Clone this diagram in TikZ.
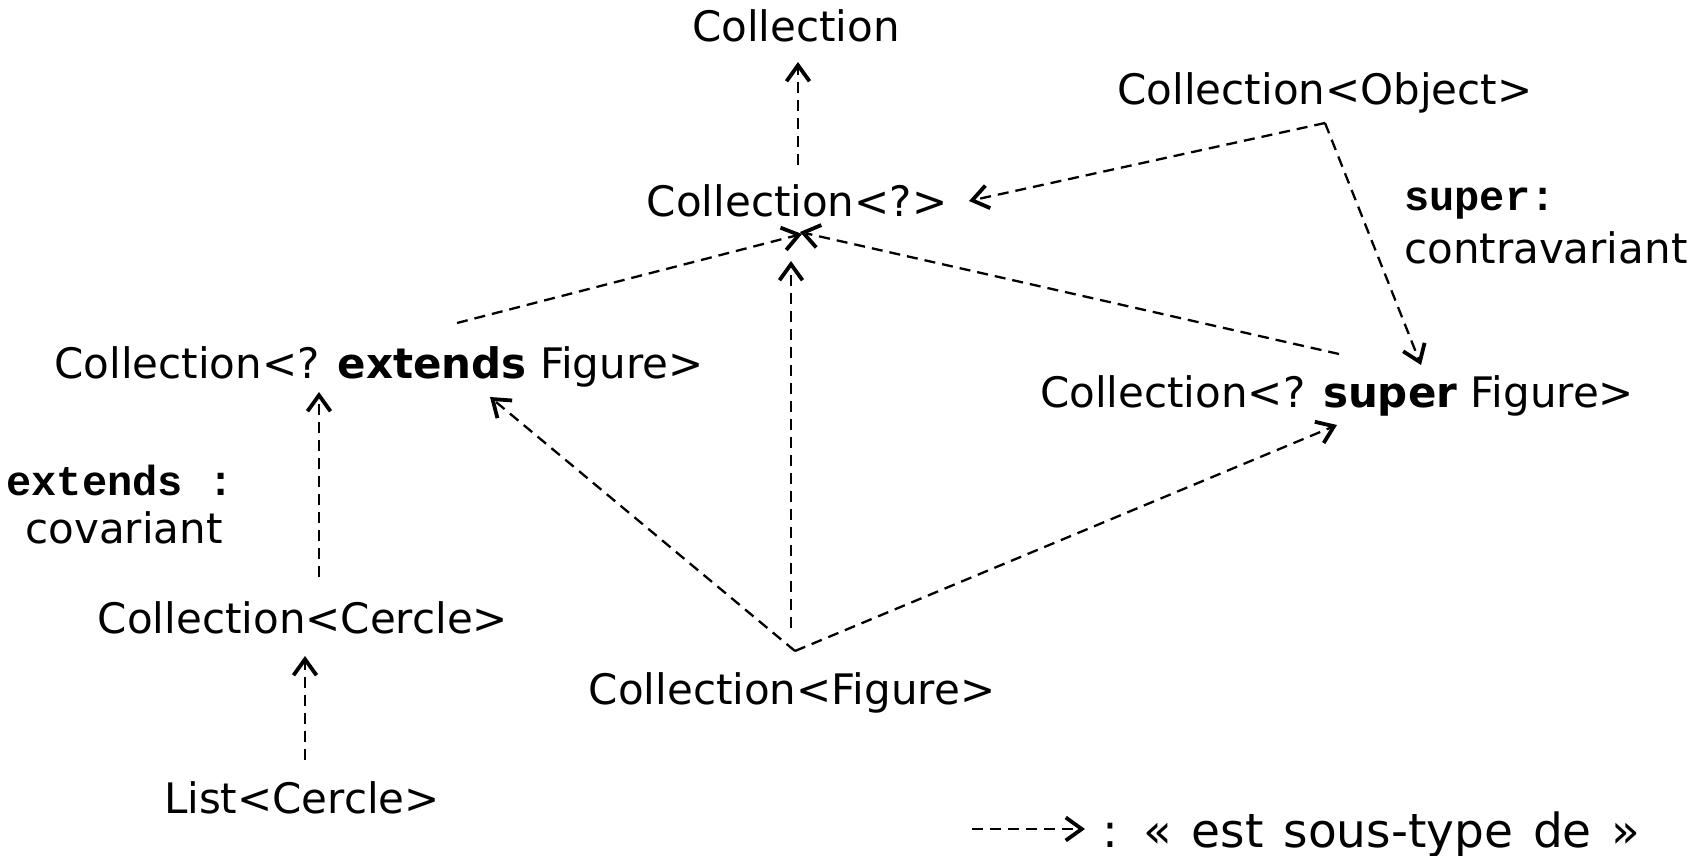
\documentclass[tikz,border=0pt]{standalone}
\usepackage{fontspec}
\setmainfont{DejaVu Sans}
\setmonofont{Liberation Mono}
\usetikzlibrary{arrows.meta}
\begin{document}
\begin{tikzpicture}[x=1pt,y=-1pt,
  lbl/.style={anchor=base,inner sep=0pt,font=\fontsize{42}{50}\selectfont},
  mono/.style={anchor=base,inner sep=0pt,font=\fontsize{42}{50}\selectfont\ttfamily\bfseries},
  sub/.style={line width=2.3pt,dash pattern=on 11pt off 7pt,
    -{Straight Barb[length=16pt,width=23pt,line width=3.8pt]}}]
\useasboundingbox (0,0) rectangle (1707,856);
\node[lbl] (coll) at (796,42) {Collection};
\node[lbl] (obj) at (1325,105) {Collection<Object>};
\node[lbl] (q) at (797,216) {Collection<?>};
\node[lbl] (ext) at (379,378) {Collection<? \textbf{extends} Figure>};
\node[lbl] (sup) at (1337,407) {Collection<? \textbf{super} Figure>};
\node[lbl] (cer) at (303,633) {Collection<Cercle>};
\node[lbl] (fig) at (792,704) {Collection<Figure>};
\node[lbl] (list) at (302,813) {List<Cercle>};
\node[mono,anchor=base west] (supA) at (1404,210) {super:};
\node[lbl,anchor=base west] (supB) at (1404,263) {contravariant};
\node[mono] (extA) at (120,495) {extends :};
\node[lbl] (extB) at (124,543) {covariant};
\node[lbl,anchor=base west,font=\fontsize{47}{56}\selectfont] (leg) at (1102,847) {\spaceskip=20pt\relax : « est sous-type de »};
\coordinate (legA) at (972,829);
\coordinate (legB) at (1085,829);
\draw[sub] ([shift={(1,-51)}]q.base) -- ([shift={(2,20)}]coll.base);
\draw[sub] ([shift={(0,18)}]obj.base) -- ([shift={(172,-15)}]q.base);
\draw[sub] ([shift={(0,18)}]obj.base) -- ([shift={(84,-42)}]sup.base);
\draw[sub] ([shift={(78,-55)}]ext.base) -- ([shift={(5,18)}]q.base);
\draw[sub] ([shift={(2,-53)}]sup.base) -- ([shift={(3,16)}]q.base);
\draw[sub] ([shift={(-1,-76)}]fig.base) -- ([shift={(-6,45)}]q.base);
\draw[sub] ([shift={(3,-53)}]fig.base) -- ([shift={(111,19)}]ext.base);
\draw[sub] ([shift={(3,-53)}]fig.base) -- ([shift={(0,18)}]sup.base);
\draw[sub] ([shift={(16,-56)}]cer.base) -- ([shift={(-60,14)}]ext.base);
\draw[sub] ([shift={(3,-53)}]list.base) -- ([shift={(2,23)}]cer.base);
\draw[sub] (legA) -- (legB);
\end{tikzpicture}
\end{document}
